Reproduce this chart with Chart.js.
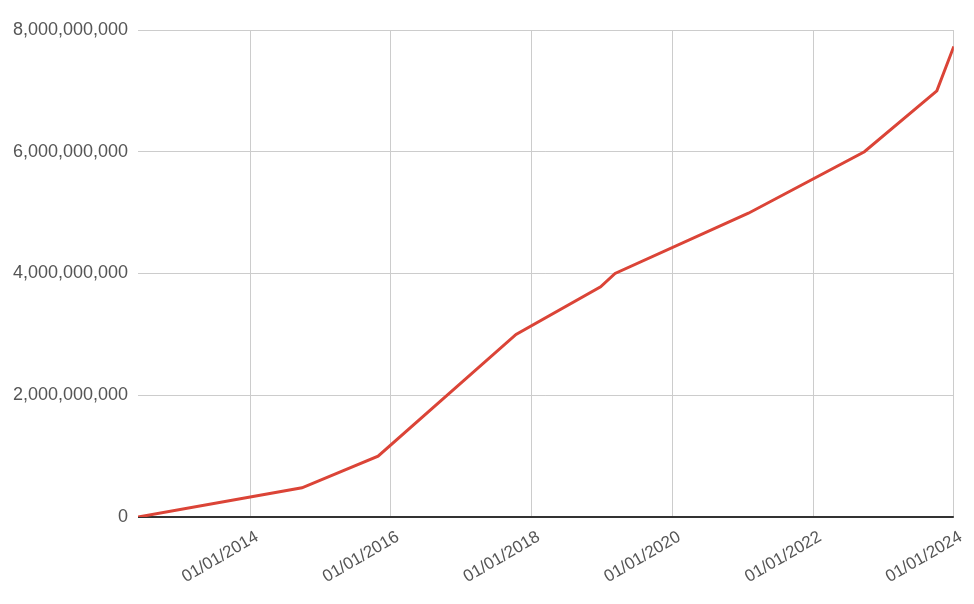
<!DOCTYPE html>
<html>
<head>
<meta charset="utf-8">
<script src="https://cdn.jsdelivr.net/npm/chart.js@4"></script>
<style>
  html, body { margin: 0; padding: 0; background: #fff; }
  #wrap { width: 974px; height: 604px; }
</style>
</head>
<body>
<div id="wrap"><canvas id="chart"></canvas></div>
<script>
// dates of each reading and the running total
const dates = ['2012-05-29', '2014-09-27', '2015-10-27', '2017-10-12', '2018-12-25', '2019-03-10', '2021-01-30', '2022-09-24', '2023-10-05', '2024-01-01'];
const totals = [0, 480000000, 1000000000, 3000000000, 3780000000, 4000000000, 4990000000, 6000000000, 7000000000, 7730000000];
const tickYears = [2014, 2016, 2018, 2020, 2022, 2024];

const toTime = s => Date.parse(s + 'T00:00:00Z');
const points = dates.map((d, i) => ({ x: toTime(d), y: totals[i] }));

const ctx = document.getElementById('chart').getContext('2d');
new Chart(ctx, {
  type: 'line',
  data: {
    datasets: [{
      data: points,
      borderColor: '#db4437',
      borderWidth: 3,
      pointRadius: 0,
      tension: 0,
      fill: false
    }]
  },
  options: {
    responsive: true,
    maintainAspectRatio: false,
    animation: false,
    layout: { padding: { top: 30, right: 19, bottom: 0, left: 0 } },
    plugins: { legend: { display: false }, tooltip: { enabled: false } },
    scales: {
      x: {
        type: 'linear',
        min: points[0].x,
        max: toTime('2024-01-01'),
        afterBuildTicks: axis => {
          axis.ticks = tickYears.map(y => ({ value: Date.UTC(y, 0, 1) }));
        },
        afterFit: axis => { axis.height = 87; },
        grid: { color: '#cccccc', drawTicks: false },
        border: { display: false },
        ticks: {
          autoSkip: false,
          minRotation: 30,
          maxRotation: 30,
          padding: 10,
          labelOffset: 7,
          color: '#555',
          font: { family: 'Liberation Sans, Arial, sans-serif', size: 17 },
          callback: v => '01/01/' + new Date(v).getUTCFullYear()
        }
      },
      y: {
        min: 0,
        max: 8000000000,
        afterBuildTicks: axis => {
          axis.ticks = [0, 2, 4, 6, 8].map(v => ({ value: v * 1000000000 }));
        },
        afterFit: axis => { axis.width = 138; },
        grid: {
          color: c => c.tick && c.tick.value === 0 ? '#333333' : '#cccccc',
          lineWidth: c => c.tick && c.tick.value === 0 ? 2 : 1,
          drawTicks: false
        },
        border: { display: false },
        ticks: {
          padding: 10,
          color: '#555',
          font: { family: 'Liberation Sans, Arial, sans-serif', size: 18 },
          callback: v => v.toLocaleString('en-US')
        }
      }
    }
  }
});
</script>
</body>
</html>
